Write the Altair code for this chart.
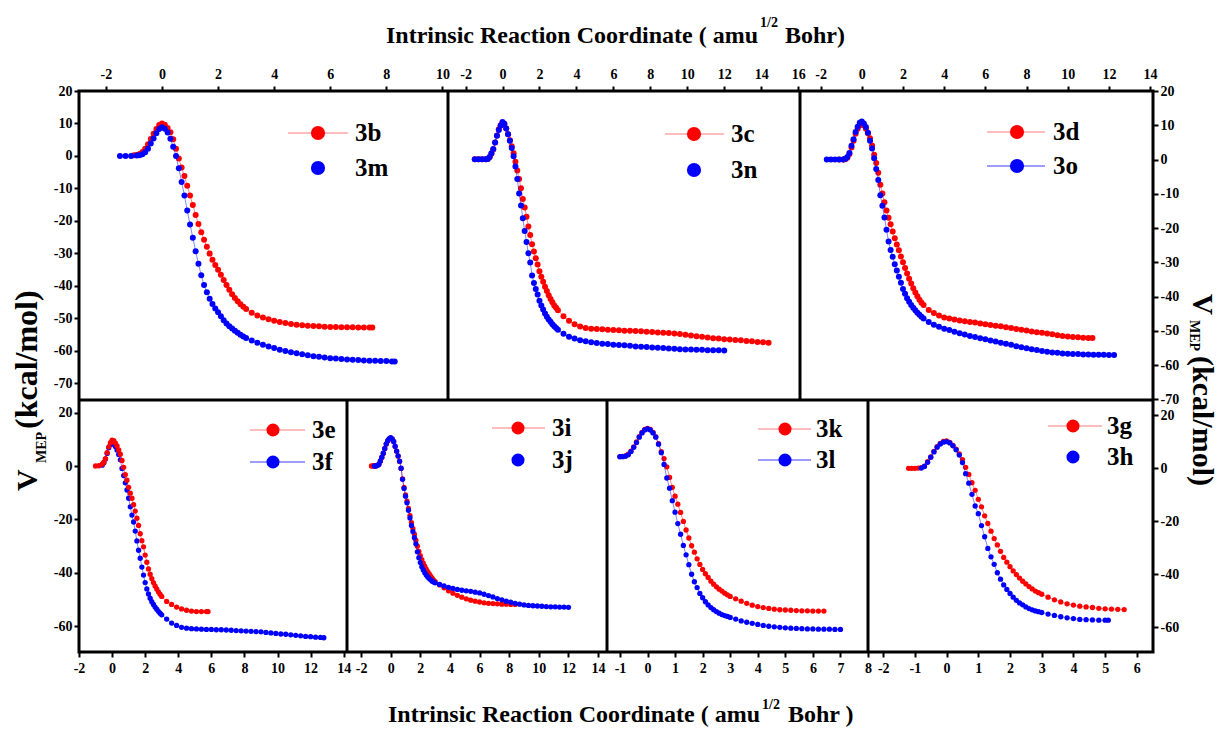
import altair as alt
import pandas as pd

FONT = "Liberation Serif"
RED = "#ff0000"
BLUE = "#0000ff"
LRED = "#ff7a7a"
LBLUE = "#3a3aff"

# ---------------- data (x = IRC, y = V_MEP) ----------------
S_3b = [(-1.0,0.2),(-0.9,0.3),(-0.8,0.6),(-0.7,1.2),(-0.6,2.2),(-0.5,3.6),(-0.4,5.2),(-0.3,6.8),(-0.2,8.3),(-0.1,9.5),
        (0.0,10.0),(0.1,9.6),(0.2,8.6),(0.3,7.3),(0.4,5.1),(0.5,2.2),(0.6,-0.8),(0.7,-3.6),(0.8,-6.2),(0.9,-9.2),
        (1.0,-12.2),(1.1,-15.1),(1.2,-18.2),(1.3,-21.0),(1.4,-23.5),(1.5,-25.8),(1.6,-28.0),(1.7,-30.1),(1.8,-32.0),(1.9,-33.6),
        (2.0,-35.1),(2.1,-36.6),(2.2,-38.2),(2.3,-39.8),(2.4,-41.2),(2.5,-42.6),(2.6,-43.8),(2.7,-44.8),(2.8,-45.7),(2.9,-46.5),
        (3.0,-47.2),(3.2,-48.3),(3.4,-49.2),(3.6,-49.8),(3.8,-50.3),(4.0,-50.8),(4.2,-51.2),(4.4,-51.5),(4.6,-51.8),(4.8,-52.0),
        (5.0,-52.2),(5.2,-52.3),(5.4,-52.4),(5.6,-52.5),(5.8,-52.6),(6.0,-52.7),(6.2,-52.7),(6.4,-52.8),(6.6,-52.8),(6.8,-52.8),
        (7.0,-52.9),(7.2,-52.9),(7.4,-52.9),(7.5,-52.9)]
S_3m = [(-1.5,0.0),(-1.3,0.0),(-1.1,0.0),(-0.9,0.1),(-0.8,0.2),(-0.7,0.5),(-0.6,1.1),(-0.5,2.2),(-0.4,3.8),(-0.3,5.4),
        (-0.2,7.0),(-0.1,8.3),(0.0,8.8),(0.1,8.4),(0.2,7.2),(0.3,5.3),(0.4,2.8),(0.5,0.0),(0.6,-3.8),(0.7,-8.0),
        (0.8,-12.2),(0.9,-16.8),(1.0,-21.1),(1.1,-25.2),(1.2,-29.4),(1.3,-33.2),(1.4,-36.8),(1.5,-39.8),(1.6,-42.0),(1.7,-44.0),
        (1.8,-45.6),(1.9,-47.0),(2.0,-48.2),(2.1,-49.4),(2.2,-50.6),(2.3,-51.6),(2.4,-52.5),(2.5,-53.2),(2.6,-53.9),(2.7,-54.5),
        (2.8,-55.1),(2.9,-55.6),(3.0,-56.1),(3.2,-56.9),(3.4,-57.6),(3.6,-58.2),(3.8,-58.7),(4.0,-59.2),(4.2,-59.7),(4.4,-60.1),
        (4.6,-60.5),(4.8,-60.8),(5.0,-61.1),(5.2,-61.4),(5.4,-61.7),(5.6,-61.9),(5.8,-62.1),(6.0,-62.3),(6.2,-62.4),(6.4,-62.6),
        (6.6,-62.7),(6.8,-62.8),(7.0,-62.9),(7.2,-63.0),(7.4,-63.1),(7.6,-63.1),(7.8,-63.2),(8.0,-63.2),(8.2,-63.3),(8.3,-63.3)]

S_3c = [(-1.5,0.0),(-1.3,0.0),(-1.1,0.0),(-0.9,0.0),(-0.8,0.1),(-0.7,0.6),(-0.6,1.6),(-0.5,2.9),(-0.4,4.9),(-0.3,7.0),
        (-0.2,8.8),(-0.1,10.0),(0.0,10.6),(0.1,10.2),(0.2,9.0),(0.3,7.3),(0.4,5.6),(0.5,3.8),(0.6,1.8),(0.7,-0.7),
        (0.8,-3.3),(0.9,-5.8),(1.0,-8.5),(1.1,-11.6),(1.2,-14.1),(1.3,-16.8),(1.4,-19.7),(1.5,-22.2),(1.6,-24.9),(1.7,-27.0),
        (1.8,-29.0),(1.9,-30.8),(2.0,-32.8),(2.1,-34.4),(2.2,-35.9),(2.3,-37.3),(2.4,-38.6),(2.5,-39.8),(2.6,-40.9),(2.7,-41.9),
        (2.8,-42.8),(2.9,-43.5),(3.0,-44.2),(3.3,-46.0),(3.6,-47.3),(3.9,-48.3),(4.2,-49.0),(4.5,-49.4),(4.8,-49.6),(5.1,-49.7),
        (5.4,-49.8),(5.7,-49.9),(6.0,-50.0),(6.3,-50.1),(6.6,-50.2),(6.9,-50.2),(7.2,-50.3),(7.5,-50.4),(7.8,-50.5),(8.1,-50.6),
        (8.4,-50.7),(8.7,-50.8),(9.0,-50.9),(9.3,-51.0),(9.6,-51.2),(9.9,-51.4),(10.2,-51.6),(10.5,-51.8),(10.8,-52.0),(11.1,-52.2),
        (11.4,-52.4),(11.7,-52.5),(12.0,-52.7),(12.3,-52.8),(12.6,-52.9),(12.9,-53.0),(13.2,-53.2),(13.5,-53.3),(13.8,-53.5),(14.1,-53.6),
        (14.4,-53.7)]
S_3n = [(-1.5,0.0),(-1.3,0.0),(-1.1,0.0),(-0.9,0.0),(-0.8,0.1),(-0.7,0.7),(-0.6,1.8),(-0.5,3.0),(-0.4,4.9),(-0.3,6.9),
        (-0.2,8.6),(-0.1,9.9),(0.0,10.9),(0.1,10.4),(0.2,9.0),(0.3,7.3),(0.4,5.4),(0.5,3.3),(0.6,0.9),(0.7,-2.1),
        (0.8,-5.8),(0.9,-10.0),(1.0,-13.5),(1.1,-17.3),(1.2,-21.0),(1.3,-24.2),(1.4,-27.5),(1.5,-30.2),(1.6,-34.0),(1.7,-36.2),
        (1.8,-38.0),(1.9,-39.6),(2.0,-41.4),(2.1,-42.8),(2.2,-44.0),(2.3,-45.2),(2.4,-46.1),(2.5,-46.9),(2.6,-47.6),(2.7,-48.3),
        (2.8,-48.9),(2.9,-49.4),(3.0,-49.9),(3.3,-51.1),(3.6,-52.0),(3.9,-52.5),(4.2,-53.0),(4.5,-53.3),(4.8,-53.6),(5.1,-53.8),
        (5.4,-54.0),(5.7,-54.1),(6.0,-54.3),(6.3,-54.4),(6.6,-54.5),(6.9,-54.6),(7.2,-54.8),(7.5,-54.9),(7.8,-55.0),(8.1,-55.1),
        (8.4,-55.2),(8.7,-55.3),(9.0,-55.4),(9.3,-55.5),(9.6,-55.6),(9.9,-55.7),(10.2,-55.7),(10.5,-55.8),(10.8,-55.8),(11.1,-55.9),
        (11.4,-55.9),(11.7,-55.9),(12.0,-56.0)]

S_3d = [(-1.1,0.0),(-0.9,0.0),(-0.8,0.1),(-0.7,0.5),(-0.6,1.6),(-0.5,3.5),(-0.4,5.5),(-0.3,7.5),(-0.2,9.0),(-0.1,10.0),
        (0.0,10.4),(0.1,9.9),(0.2,9.0),(0.3,7.7),(0.4,6.2),(0.5,4.1),(0.6,1.4),(0.7,-1.0),(0.8,-3.9),(0.9,-7.4),
        (1.0,-9.9),(1.1,-12.5),(1.2,-14.9),(1.3,-17.0),(1.4,-18.9),(1.5,-21.0),(1.6,-23.0),(1.7,-24.8),(1.8,-26.5),(1.9,-28.3),
        (2.0,-30.0),(2.1,-31.7),(2.2,-33.3),(2.3,-34.8),(2.4,-36.2),(2.5,-37.6),(2.6,-38.8),(2.7,-39.9),(2.8,-40.9),(2.9,-41.8),
        (3.0,-42.5),(3.25,-43.9),(3.5,-44.8),(3.75,-45.5),(4.0,-46.1),(4.25,-46.4),(4.5,-46.7),(4.75,-47.0),(5.0,-47.2),(5.25,-47.4),
        (5.5,-47.6),(5.75,-47.9),(6.0,-48.1),(6.25,-48.3),(6.5,-48.5),(6.75,-48.7),(7.0,-49.0),(7.25,-49.2),(7.5,-49.5),(7.75,-49.7),
        (8.0,-49.9),(8.25,-50.2),(8.5,-50.4),(8.75,-50.6),(9.0,-50.8),(9.25,-51.0),(9.5,-51.3),(9.75,-51.5),(10.0,-51.7),(10.25,-51.8),
        (10.5,-51.9),(10.75,-52.0),(11.0,-52.1),(11.2,-52.1)]
S_3o = [(-1.7,0.0),(-1.5,0.0),(-1.3,0.0),(-1.1,0.0),(-0.9,0.0),(-0.8,0.2),(-0.7,0.7),(-0.6,1.9),(-0.5,4.0),(-0.4,5.9),
        (-0.3,8.0),(-0.2,9.6),(-0.1,10.7),(0.0,11.1),(0.1,10.5),(0.2,9.5),(0.3,7.8),(0.4,5.5),(0.5,3.2),(0.6,0.4),
        (0.7,-2.8),(0.8,-6.0),(0.9,-10.4),(1.0,-13.5),(1.1,-16.9),(1.2,-20.5),(1.3,-23.9),(1.4,-26.4),(1.5,-28.4),(1.6,-30.6),
        (1.7,-32.4),(1.8,-34.2),(1.9,-36.0),(2.0,-37.8),(2.1,-39.2),(2.2,-40.5),(2.3,-41.5),(2.4,-42.5),(2.5,-43.3),(2.6,-44.0),
        (2.7,-44.7),(2.8,-45.3),(2.9,-45.9),(3.0,-46.4),(3.25,-47.4),(3.5,-48.2),(3.75,-48.8),(4.0,-49.4),(4.25,-49.8),(4.5,-50.3),
        (4.75,-50.7),(5.0,-51.1),(5.25,-51.5),(5.5,-51.8),(5.75,-52.2),(6.0,-52.5),(6.25,-52.8),(6.5,-53.1),(6.75,-53.5),(7.0,-53.8),
        (7.25,-54.1),(7.5,-54.5),(7.75,-54.8),(8.0,-55.1),(8.25,-55.4),(8.5,-55.6),(8.75,-55.9),(9.0,-56.1),(9.25,-56.3),(9.5,-56.4),
        (9.75,-56.6),(10.0,-56.7),(10.25,-56.8),(10.5,-56.8),(10.75,-56.9),(11.0,-56.9),(11.25,-57.0),(11.5,-57.0),(11.75,-57.0),(12.0,-57.1),
        (12.25,-57.1)]

S_3e = [(-1.0,0.0),(-0.8,0.1),(-0.6,0.7),(-0.5,1.4),(-0.4,2.8),(-0.3,5.0),(-0.2,7.2),(-0.1,8.8),(0.0,9.7),(0.1,9.5),
        (0.2,8.6),(0.3,7.5),(0.4,6.0),(0.5,4.4),(0.6,2.1),(0.7,-0.5),(0.8,-3.2),(0.9,-5.3),(1.0,-8.0),(1.1,-10.2),
        (1.2,-12.1),(1.3,-14.5),(1.4,-16.9),(1.5,-19.6),(1.6,-22.3),(1.7,-25.4),(1.8,-28.0),(1.9,-30.3),(2.0,-33.4),(2.1,-36.1),
        (2.2,-38.6),(2.3,-40.6),(2.4,-42.2),(2.5,-43.7),(2.6,-45.0),(2.7,-46.1),(2.8,-47.2),(2.9,-48.1),(3.0,-48.9),(3.3,-50.8),
        (3.6,-51.9),(3.9,-52.9),(4.2,-53.6),(4.5,-54.1),(4.8,-54.4),(5.1,-54.6),(5.4,-54.6),(5.7,-54.6),(5.8,-54.6)]
S_3f = [(-0.6,0.3),(-0.5,1.2),(-0.4,2.6),(-0.3,4.7),(-0.2,6.8),(-0.1,8.1),(0.0,8.5),(0.1,8.2),(0.2,7.3),(0.3,6.0),
        (0.4,4.3),(0.5,2.3),(0.6,-0.9),(0.7,-3.6),(0.8,-6.3),(0.9,-9.0),(1.0,-12.1),(1.1,-15.3),(1.2,-18.4),(1.3,-21.0),
        (1.4,-24.4),(1.5,-28.1),(1.6,-31.6),(1.7,-34.6),(1.8,-37.9),(1.9,-40.9),(2.0,-43.7),(2.1,-46.1),(2.2,-48.0),(2.3,-49.6),
        (2.4,-50.9),(2.5,-51.9),(2.6,-52.9),(2.7,-53.7),(2.8,-54.5),(2.9,-55.2),(3.0,-55.8),(3.3,-57.4),(3.6,-58.9),(3.9,-59.8),
        (4.2,-60.5),(4.5,-60.8),(4.8,-61.0),(5.1,-61.1),(5.4,-61.2),(5.7,-61.3),(6.0,-61.3),(6.3,-61.4),(6.6,-61.4),(6.9,-61.5),
        (7.2,-61.6),(7.5,-61.7),(7.8,-61.8),(8.1,-61.9),(8.4,-62.0),(8.7,-62.1),(9.0,-62.2),(9.3,-62.4),(9.6,-62.6),(9.9,-62.8),
        (10.2,-63.0),(10.5,-63.1),(10.8,-63.3),(11.1,-63.5),(11.4,-63.7),(11.7,-63.9),(12.0,-64.0),(12.3,-64.2),(12.6,-64.3),(12.8,-64.4)]

S_3i = [(-1.3,0.0),(-1.2,0.0),(-1.1,0.0),(-1.0,0.0),(-0.9,0.2),(-0.8,0.6),(-0.7,1.8),(-0.6,3.2),(-0.5,4.7),(-0.4,6.5),
        (-0.3,8.2),(-0.2,9.4),(-0.1,10.2),(0.0,10.5),(0.1,10.1),(0.2,9.1),(0.3,7.3),(0.4,5.5),(0.5,3.7),(0.6,1.7),
        (0.7,-0.9),(0.8,-4.8),(0.9,-8.0),(1.0,-10.8),(1.1,-13.2),(1.2,-15.9),(1.3,-18.6),(1.4,-21.2),(1.5,-23.5),(1.6,-25.6),
        (1.7,-27.8),(1.8,-30.1),(1.9,-32.0),(2.0,-33.6),(2.1,-35.1),(2.2,-36.4),(2.3,-37.6),(2.4,-38.7),(2.5,-39.6),(2.6,-40.5),
        (2.7,-41.3),(2.8,-42.1),(2.9,-42.8),(3.0,-43.4),(3.3,-44.6),(3.6,-45.7),(3.9,-46.8),(4.2,-47.7),(4.5,-48.5),(4.8,-49.2),
        (5.1,-49.8),(5.4,-50.3),(5.7,-50.7),(6.0,-51.0),(6.3,-51.3),(6.6,-51.5),(6.9,-51.6),(7.2,-51.7),(7.5,-51.8),(7.8,-51.8),
        (8.1,-51.9),(8.4,-51.9)]
S_3j = [(-1.1,0.0),(-1.0,0.0),(-0.9,0.2),(-0.8,0.6),(-0.7,1.9),(-0.6,3.3),(-0.5,4.8),(-0.4,6.6),(-0.3,8.3),(-0.2,9.5),
        (-0.1,10.3),(0.0,10.6),(0.1,10.2),(0.2,9.2),(0.3,7.4),(0.4,5.6),(0.5,3.8),(0.6,1.8),(0.7,-0.8),(0.8,-5.0),
        (0.9,-8.4),(1.0,-11.3),(1.1,-13.8),(1.2,-16.6),(1.3,-19.5),(1.4,-22.3),(1.5,-24.6),(1.6,-26.9),(1.7,-29.2),(1.8,-32.2),
        (1.9,-34.4),(2.0,-36.2),(2.1,-37.8),(2.2,-39.0),(2.3,-40.0),(2.4,-40.9),(2.5,-41.6),(2.6,-42.2),(2.7,-42.7),(2.8,-43.2),
        (2.9,-43.5),(3.0,-43.8),(3.3,-44.4),(3.6,-45.0),(3.9,-45.5),(4.2,-45.9),(4.5,-46.3),(4.8,-46.6),(5.1,-46.8),(5.4,-47.0),
        (5.7,-47.3),(6.0,-47.6),(6.3,-48.1),(6.6,-48.6),(6.9,-49.1),(7.2,-49.7),(7.5,-50.2),(7.8,-50.7),(8.1,-51.1),(8.4,-51.5),
        (8.7,-51.8),(9.0,-52.1),(9.3,-52.3),(9.6,-52.4),(9.9,-52.5),(10.2,-52.6),(10.5,-52.7),(10.8,-52.8),(11.1,-52.8),(11.4,-52.9),
        (11.7,-52.9),(12.0,-53.0)]

S_3k = [(-1.0,3.5),(-0.9,3.6),(-0.8,3.8),(-0.7,4.4),(-0.6,5.6),(-0.5,7.2),(-0.4,9.0),(-0.3,11.0),(-0.2,12.6),(-0.1,13.7),
        (0.0,14.1),(0.1,13.7),(0.2,12.6),(0.3,11.0),(0.4,8.4),(0.5,5.4),(0.6,2.8),(0.7,-0.3),(0.8,-4.3),(0.9,-8.0),
        (1.0,-11.3),(1.1,-14.3),(1.2,-17.4),(1.3,-20.8),(1.4,-24.0),(1.5,-27.0),(1.6,-29.9),(1.7,-32.3),(1.8,-34.8),(1.9,-36.9),
        (2.0,-38.8),(2.1,-40.4),(2.2,-41.8),(2.3,-43.2),(2.4,-44.3),(2.5,-45.3),(2.6,-46.2),(2.7,-46.9),(2.8,-47.7),(2.9,-48.3),
        (3.0,-48.9),(3.2,-49.8),(3.4,-50.7),(3.6,-51.5),(3.8,-52.2),(4.0,-52.7),(4.2,-53.1),(4.4,-53.4),(4.6,-53.7),(4.8,-53.9),
        (5.0,-54.0),(5.2,-54.1),(5.4,-54.2),(5.6,-54.3),(5.8,-54.3),(6.0,-54.4),(6.2,-54.4),(6.4,-54.4)]
S_3l = [(-1.0,3.5),(-0.9,3.5),(-0.8,3.7),(-0.7,4.2),(-0.6,5.4),(-0.5,7.0),(-0.4,8.8),(-0.3,10.8),(-0.2,12.4),(-0.1,13.5),
        (0.0,13.9),(0.1,13.5),(0.2,12.4),(0.3,10.8),(0.4,8.2),(0.5,5.0),(0.6,0.6),(0.7,-4.5),(0.8,-8.3),(0.9,-13.0),
        (1.0,-17.3),(1.1,-21.6),(1.2,-25.6),(1.3,-29.8),(1.4,-33.3),(1.5,-37.0),(1.6,-40.6),(1.7,-43.4),(1.8,-45.6),(1.9,-47.8),
        (2.0,-49.4),(2.1,-50.9),(2.2,-52.1),(2.3,-53.1),(2.4,-53.9),(2.5,-54.6),(2.6,-55.2),(2.7,-55.7),(2.8,-56.1),(2.9,-56.4),
        (3.0,-56.8),(3.2,-57.4),(3.4,-58.1),(3.6,-58.6),(3.8,-59.0),(4.0,-59.4),(4.2,-59.8),(4.4,-60.1),(4.6,-60.3),(4.8,-60.5),
        (5.0,-60.7),(5.2,-60.8),(5.4,-60.9),(5.6,-61.0),(5.8,-61.1),(6.0,-61.1),(6.2,-61.2),(6.4,-61.2),(6.6,-61.2),(6.8,-61.3),
        (7.0,-61.3)]

S_3g = [(-1.2,0.0),(-1.1,0.0),(-1.0,0.0),(-0.9,0.1),(-0.8,0.3),(-0.7,0.8),(-0.6,2.5),(-0.5,4.3),(-0.4,6.4),(-0.3,8.2),
        (-0.2,9.4),(-0.1,10.2),(0.0,10.4),(0.1,9.8),(0.2,8.7),(0.3,7.3),(0.4,5.5),(0.5,3.3),(0.6,0.4),(0.7,-2.3),
        (0.8,-5.4),(0.9,-8.3),(1.0,-11.7),(1.1,-14.5),(1.2,-17.9),(1.3,-20.8),(1.4,-23.7),(1.5,-26.5),(1.6,-28.9),(1.7,-31.3),
        (1.8,-33.6),(1.9,-35.4),(2.0,-37.1),(2.1,-38.7),(2.2,-40.1),(2.3,-41.4),(2.4,-42.6),(2.5,-43.6),(2.6,-44.6),(2.7,-45.5),
        (2.8,-46.3),(2.9,-46.9),(3.0,-47.5),(3.2,-48.6),(3.4,-49.6),(3.6,-50.4),(3.8,-51.1),(4.0,-51.6),(4.2,-52.0),(4.4,-52.3),
        (4.6,-52.5),(4.8,-52.8),(5.0,-53.0),(5.2,-53.1),(5.4,-53.2),(5.6,-53.3)]
S_3h = [(-0.8,0.1),(-0.7,0.7),(-0.6,2.3),(-0.5,4.2),(-0.4,6.2),(-0.3,8.0),(-0.2,9.2),(-0.1,9.9),(0.0,10.1),(0.1,9.6),
        (0.2,8.5),(0.3,7.0),(0.4,5.0),(0.5,2.2),(0.6,-2.0),(0.7,-5.6),(0.8,-9.8),(0.9,-14.2),(1.0,-17.1),(1.1,-21.6),
        (1.2,-25.8),(1.3,-30.2),(1.4,-33.4),(1.5,-36.2),(1.6,-39.4),(1.7,-41.8),(1.8,-44.0),(1.9,-45.7),(2.0,-47.2),(2.1,-48.6),
        (2.2,-49.8),(2.3,-50.8),(2.4,-51.5),(2.5,-52.3),(2.6,-52.9),(2.7,-53.4),(2.8,-53.8),(2.9,-54.1),(3.0,-54.4),(3.2,-55.0),
        (3.4,-55.5),(3.6,-56.0),(3.8,-56.4),(4.0,-56.7),(4.2,-57.0),(4.4,-57.1),(4.6,-57.2),(4.8,-57.3),(5.0,-57.3),(5.1,-57.3)]

# tick values
XT_1 = [-2, 0, 2, 4, 6, 8, 10]
XT_2 = [-2, 0, 2, 4, 6, 8, 10, 12, 14, 16]
XT_3 = [-2, 0, 2, 4, 6, 8, 10, 12, 14]
XT_4 = [-2, 0, 2, 4, 6, 8, 10, 12, 14]
XT_5 = [-2, 0, 2, 4, 6, 8, 10, 12, 14]
XT_6 = [-1, 0, 1, 2, 3, 4, 5, 6, 7, 8]
XT_7 = [-2, -1, 0, 1, 2, 3, 4, 5, 6]
YT_TOP = [-70, -60, -50, -40, -30, -20, -10, 0, 10, 20]
YT_BOT = [-60, -40, -20, 0, 20]

TITLE_X = "Intrinsic Reaction Coordinate ( amu"
TITLE_Y = "V"
SUB_Y = "MEP"
UNIT_Y = "(kcal/mol)"

LBL = "datum.value < 0 ? '-' + abs(datum.value) : '' + datum.value"
ONE = pd.DataFrame({"k": [0]})

# ---------------- layout (pixels of the whole plot area) ----------------
W, H = 1074, 561
TOP_H = 309


def stretch(d, a, b, total):
    """extend a panel's data domain so that it lands in pixel slot [a, b] of the full range"""
    k = (d[1] - d[0]) / (b - a)
    return [d[0] - a * k, d[1] + (total - b) * k]


def text_layer(txt, x, y, size, align="left", angle=0, baseline="alphabetic"):
    kw = dict(text=txt, font=FONT, fontWeight="bold", fontSize=size, align=align,
              baseline=baseline, color="black")
    if angle:
        kw["angle"] = angle
    return alt.Chart(ONE).mark_text(**kw).encode(x=alt.value(x), y=alt.value(y))


def panel(series, xdom, xvals, xorient, ydom, yvals, yorient, slot, dot, legend):
    a, b, t, u = slot
    xd = stretch(xdom, a, b, W)
    yd0 = stretch(ydom, H - u, H - t, H)   # y range runs bottom -> top
    X = alt.X("x:Q", title=None,
              scale=alt.Scale(domain=xd, nice=False, zero=False),
              axis=alt.Axis(orient=xorient, values=xvals, labelExpr=LBL,
                            labelPadding=5 if xorient == "top" else 4))
    yax = alt.Axis(orient=yorient, values=yvals, labelExpr=LBL, labelPadding=2) if yorient else None
    Y = alt.Y("y:Q", title=None, scale=alt.Scale(domain=yd0, nice=False, zero=False), axis=yax)
    layers = []
    for pts, col in series:
        df = pd.DataFrame(pts, columns=["x", "y"])
        layers.append(alt.Chart(df).mark_line(color=col, strokeWidth=0.8, opacity=0.6).encode(x=X, y=Y))
        layers.append(alt.Chart(df).mark_circle(color=col, size=dot, opacity=1).encode(x=X, y=Y))
    deco = []
    for lab, col, lcol, mx, my, tx, lx1, lx2, msize in legend:
        if lcol:
            deco.append(alt.Chart(ONE).mark_rule(color=lcol, strokeWidth=1).encode(
                x=alt.value(a + lx1), x2=alt.value(a + lx2), y=alt.value(t + my)))
        deco.append(alt.Chart(ONE).mark_circle(color=col, size=msize, opacity=1).encode(
            x=alt.value(a + mx), y=alt.value(t + my)))
        deco.append(text_layer(lab, a + tx, t + my, 25, baseline="middle"))
    return alt.layer(*layers), deco


TD = 36
BD = 28
S1 = (0, 369, 0, TOP_H)
S2 = (369, 721, 0, TOP_H)
S3 = (721, W, 0, TOP_H)
S4 = (0, 268, TOP_H, H)
S5 = (268, 528, TOP_H, H)
S6 = (528, 789, TOP_H, H)
S7 = (789, W, TOP_H, H)

specs = [
    ([(S_3b, RED), (S_3m, BLUE)], [-2.96, 10.2], XT_1, "top", [-75.2, 20], YT_TOP, "left", S1, TD,
     [("3b", RED, LRED, 239, 42, 276, 209, 269, 200), ("3m", BLUE, None, 239, 77, 276, 0, 0, 200)]),
    ([(S_3c, RED), (S_3n, BLUE)], [-2.95, 16.1], XT_2, "top", [-70.5, 20], YT_TOP, None, S2, TD,
     [("3c", RED, LRED, 246, 43, 283, 217, 276, 200), ("3n", BLUE, None, 246, 79, 283, 0, 0, 200)]),
    ([(S_3d, RED), (S_3o, BLUE)], [-3.0, 14.14], XT_3, "top", [-70.2, 20], YT_TOP, "right", S3, TD,
     [("3d", RED, LRED, 217, 41, 253, 187, 245, 200), ("3o", BLUE, LBLUE, 217, 75, 253, 187, 245, 200)]),
    ([(S_3f, BLUE), (S_3e, RED)], [-2.0, 14.2], XT_4, "bottom", [-69.75, 24.75], YT_BOT, "left", S4, BD,
     [("3e", RED, LRED, 194, 30, 233, 171, 226, 170), ("3f", BLUE, LBLUE, 194, 62, 233, 171, 226, 170)]),
    ([(S_3i, RED), (S_3j, BLUE)], [-2.95, 14.6], XT_5, "bottom", [-69.75, 24.75], YT_BOT, None, S5, BD,
     [("3i", RED, LRED, 171, 28, 205, 145, 198, 170), ("3j", BLUE, None, 171, 60, 205, 0, 0, 170)]),
    ([(S_3k, RED), (S_3l, BLUE)], [-1.47, 8.0], XT_6, "bottom", [-69.75, 24.75], YT_BOT, None, S6, BD,
     [("3k", RED, LRED, 178, 29, 209, 151, 204, 170), ("3l", BLUE, LBLUE, 178, 60, 209, 151, 204, 170)]),
    ([(S_3g, RED), (S_3h, BLUE)], [-2.48, 6.51], XT_7, "bottom", [-69.3, 25.8], YT_BOT, "right", S7, BD,
     [("3g", RED, LRED, 205, 26, 239, 180, 234, 170), ("3h", BLUE, None, 205, 57, 239, 0, 0, 170)]),
]

panels = []
decor = []
for sp in specs:
    p, d = panel(*sp)
    panels.append(p)
    decor.extend(d)


def vline(x, y1, y2):
    return alt.Chart(ONE).mark_rule(color="black", strokeWidth=3).encode(
        x=alt.value(x), y=alt.value(y1), y2=alt.value(y2))


frames = [
    vline(369, 0, TOP_H), vline(721, 0, TOP_H),
    vline(268, TOP_H, H), vline(528, TOP_H, H), vline(789, TOP_H, H),
    alt.Chart(ONE).mark_rule(color="black", strokeWidth=3).encode(
        x=alt.value(0), x2=alt.value(W), y=alt.value(TOP_H)),
]

anchor = alt.Chart(ONE).mark_rect(color="white").encode(
    x=alt.value(-71), x2=alt.value(-70), y=alt.value(-83), y2=alt.value(-82))

titles = [
    anchor,
    text_layer(TITLE_X, 679, -48, 24, align="right"),
    text_layer("1/2", 681, -64, 14),
    text_layer("Bohr)", 706, -48, 24),
    text_layer(TITLE_X, 681, 631, 24, align="right"),
    text_layer("1/2", 683, 618, 14),
    text_layer("Bohr )", 709, 631, 24),
    text_layer(TITLE_Y, -42, 400, 30, angle=270),
    text_layer(SUB_Y, -33, 372, 14, angle=270),
    text_layer(UNIT_Y, -42, 338, 32, angle=270),
    text_layer(TITLE_Y, 1114, 203, 29, angle=90),
    text_layer(SUB_Y, 1111, 229, 14, angle=90),
    text_layer(UNIT_Y, 1114, 265, 30, angle=90),
]

chart = alt.layer(*panels, *frames, *decor, *titles).resolve_scale(
    x="independent", y="independent"
).properties(
    width=W, height=H, padding=0, background="white"
).configure_view(
    stroke="black", strokeWidth=3
).configure_axis(
    labelFont=FONT, labelFontWeight="bold", labelFontSize=14, labelColor="black",
    tickColor="black", tickWidth=2, tickSize=5, domain=False, grid=False,
    labelOverlap=False, labelFlush=False
)

chart.save("out.html", embed_options={"renderer": "svg", "actions": False})
